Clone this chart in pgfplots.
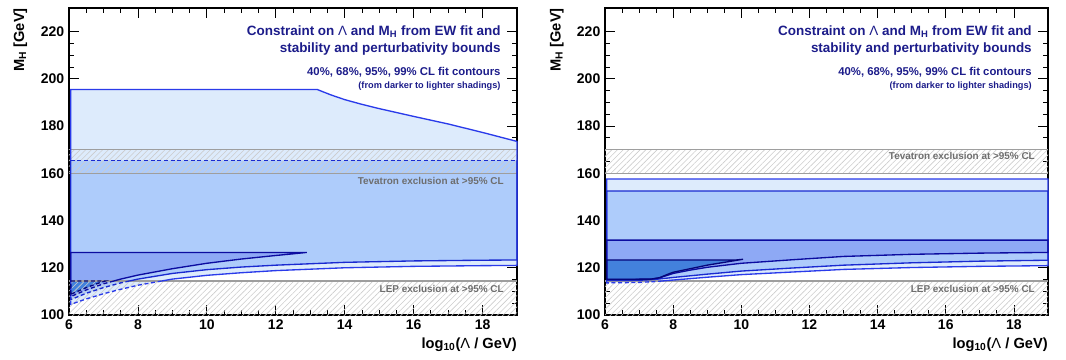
\documentclass[border=0pt]{standalone}
\usepackage{fontspec}
\setmainfont{Liberation Sans}
\usepackage{pgfplots}
\pgfplotsset{compat=1.18}
\usetikzlibrary{patterns.meta}
\definecolor{c99}{HTML}{DDEBFC}
\definecolor{c95}{HTML}{AECCFB}
\definecolor{c68}{HTML}{8EA9F5}
\definecolor{c40}{HTML}{4381DC}
\definecolor{l99}{HTML}{2A3BEA}
\definecolor{l95}{HTML}{1A2AD0}
\definecolor{l68}{HTML}{0C0CA0}
\definecolor{l40}{HTML}{06067A}
\definecolor{titleblue}{HTML}{1C1C8A}
\definecolor{excltext}{HTML}{6E6E6E}
\tikzset{txt/.style={anchor=base east, inner sep=0pt}}
\pgfplotsset{
  rootstyle/.style={
    scale only axis, height=230.25pt,
    xmin=6, xmax=19, ymin=100, ymax=230,
    clip=false,
    axis line style={black, line width=0.8pt},
    tick align=inside, xtick pos=both, ytick pos=both,
    xticklabel pos=lower, yticklabel pos=left,
    major tick length=7.5pt, minor tick length=4pt,
    tick style={black, line width=0.6pt},
    xtick={6,8,...,18}, xticklabels={6,8,10,12,14,16,18},
    ytick={100,120,...,220}, yticklabels={100,120,140,160,180,200,220},
    minor x tick num=3, minor y tick num=3,
    ticklabel style={font=\fontsize{10.5}{12}\selectfont\bfseries},
  },
  hatch/.style={draw=none, pattern={Lines[angle=45,distance=3pt,line width=0.45pt]}, pattern color=black!20},
  excline/.style={black!38, line width=0.8pt},
  cl/.style={line width=1pt},
  cld/.style={line width=1pt, dash pattern=on 3pt off 2pt},
}
\newcommand{\titletext}{%
  \node[txt, text=titleblue, font=\fontsize{10.1}{11}\selectfont\bfseries] at (axis cs:18.53,218.3) {Constraint on {\mdseries Λ} and M\textsubscript{H} from EW fit and};
  \node[txt, text=titleblue, font=\fontsize{10.1}{11}\selectfont\bfseries] at (axis cs:18.53,211.1) {stability and perturbativity bounds};
  \node[txt, text=titleblue, font=\fontsize{8.5}{9}\selectfont\bfseries] at (axis cs:18.53,201.4) {40\%, 68\%, 95\%, 99\% CL fit contours};
  \node[txt, text=titleblue, font=\fontsize{6.9}{7}\selectfont\bfseries] at (axis cs:18.53,196.0) {(from darker to lighter shadings)};
  \node[txt, rotate=90, font=\fontsize{11}{13}\selectfont\bfseries] at (rel axis cs:-0.1004,1) {M\textsubscript{H} [GeV]};
  \node[txt, font=\fontsize{11}{13}\selectfont\bfseries] at (rel axis cs:1,-0.1075) {log\textsubscript{10}({\mdseries Λ} / GeV)};
}
\begin{document}
\begin{tikzpicture}
% ---------------- left panel ----------------
\begin{axis}[rootstyle, width=336pt, at={(0pt,0pt)}, anchor=south west]
\addplot[fill=c99, draw=none] coordinates {(6.05,104.5)(6.05,195.5)(13.2,195.5)(13.6,193.2)(14,191.2)(14.5,189.2)(15,187.4)(16,184.1)(17,180.9)(18,177.3)(19,173.5)(19,121)(18,120.9)(16,120.6)(14,120)(12,118.8)(11,117.9)(10,116.8)(9,115.2)(8,112.6)(7.5,110.9)(7,109)(6.5,106.8)(6.05,104.5)};
\addplot[fill=c95, draw=none] coordinates {(6.05,106.5)(6.05,165.5)(19,165.5)(19,123.3)(18,123.2)(16,122.9)(14,122.3)(12,121.1)(11,120.3)(10,119.2)(9,117.6)(8,115.2)(7.5,113.6)(7,111.6)(6.5,109.2)(6.05,106.5)};
\addplot[fill=c68, draw=none] coordinates {(6.05,107.8)(6.05,126.5)(12.9,126.5)(12.5,125.9)(12,125.2)(11,123.7)(10,121.9)(9,119.6)(8,116.9)(7.5,115.2)(7,113.2)(6.5,110.6)(6.05,107.8)};
\addplot[fill=c40, draw=none] coordinates {(6.05,108.8)(6.05,114.4)(7.05,114.4)(6.8,113.2)(6.5,111.6)(6.25,110)(6.05,108.8)};
% exclusions
\addplot[hatch] coordinates {(6,100)(19,100)(19,114.4)(6,114.4)};
\addplot[hatch] coordinates {(6,160)(19,160)(19,170)(6,170)};
\addplot[excline] coordinates {(6,114.4)(19,114.4)};
\addplot[excline] coordinates {(6,160)(19,160)};
\addplot[excline] coordinates {(6,170)(19,170)};
% contour lines
\addplot[cl, l99] coordinates {(8.69,114.4)(9,115.2)(10,116.8)(11,117.9)(12,118.8)(14,120)(16,120.6)(18,120.9)(19,121)(19,173.5)(18,177.3)(17,180.9)(16,184.1)(15,187.4)(14.5,189.2)(14,191.2)(13.6,193.2)(13.2,195.5)(6.05,195.5)(6.05,114.4)};
\addplot[cld, l99] coordinates {(6.05,114.4)(6.05,104.5)(6.5,106.8)(7,109)(7.5,110.9)(8,112.6)(8.69,114.4)};
\addplot[cld, l95] coordinates {(6.05,165.5)(19,165.5)};
\addplot[cl, l95] coordinates {(19,165.5)(19,123.3)(18,123.2)(16,122.9)(14,122.3)(12,121.1)(11,120.3)(10,119.2)(9,117.6)(8,115.2)(7.75,114.4)};
\addplot[cld, l95] coordinates {(7.75,114.4)(7.5,113.6)(7,111.6)(6.5,109.2)(6.05,106.5)(6.05,114.4)};
\addplot[cl, l95] coordinates {(6.05,114.4)(6.05,165.5)};
\addplot[cl, l68] coordinates {(6.05,114.4)(6.05,126.5)(12.9,126.5)(12.5,125.9)(12,125.2)(11,123.7)(10,121.9)(9,119.6)(8,116.9)(7.5,115.2)(7.3,114.4)};
\addplot[cld, l68] coordinates {(7.3,114.4)(7,113.2)(6.5,110.6)(6.05,107.8)(6.05,114.4)};
\addplot[cld, l40] coordinates {(6.05,108.8)(6.05,114.4)(7.05,114.4)(6.8,113.2)(6.5,111.6)(6.25,110)(6.05,108.8)};
\titletext
\node[txt, text=excltext, font=\fontsize{7.45}{9}\selectfont\bfseries] at (axis cs:18.62,155.1) {Tevatron exclusion at >95\% CL};
\node[txt, text=excltext, font=\fontsize{7.45}{9}\selectfont\bfseries] at (axis cs:18.62,109.5) {LEP exclusion at >95\% CL};
\end{axis}
% ---------------- right panel ----------------
\begin{axis}[rootstyle, width=332.25pt, at={(402pt,0pt)}, anchor=south west]
\addplot[fill=c99, draw=none] coordinates {(6.05,113.6)(6.05,157.6)(19,157.6)(19,120.9)(17,120.6)(15,120.1)(13,119.3)(11.5,118.2)(10,117.1)(9,116)(8,114.8)(7.5,114.2)(7,113.8)(6.05,113.6)};
\addplot[fill=c95, draw=none] coordinates {(6.05,114.6)(6.05,152.5)(19,152.5)(19,123.2)(17,122.8)(15,122.1)(13,121.1)(11.5,119.9)(10,118.6)(9,117.3)(8,115.9)(7.5,115.1)(7,114.7)(6.05,114.6)};
\addplot[fill=c68, draw=none] coordinates {(6.05,115)(6.05,131.7)(19,131.7)(19,126.5)(17,126.2)(15,125.7)(13,124.8)(11.5,123.4)(10,121.9)(9,120.2)(8.5,119.0)(8,117.6)(7.6,115.7)(7.3,115.1)(6.05,115)};
\addplot[fill=c40, draw=none] coordinates {(6.05,115.1)(6.05,123.3)(9.85,123.3)(10.05,123.6)(9.5,122.3)(9,121.1)(8.5,119.6)(8,118.1)(7.85,117.3)(7.6,115.8)(7.35,115.2)(6.05,115.1)};
% exclusions
\addplot[hatch] coordinates {(6,100)(19,100)(19,114.4)(6,114.4)};
\addplot[hatch] coordinates {(6,160)(19,160)(19,170)(6,170)};
\addplot[excline] coordinates {(6,114.4)(19,114.4)};
\addplot[excline] coordinates {(6,160)(19,160)};
\addplot[excline] coordinates {(6,170)(19,170)};
% contour lines
\addplot[cl, l99] coordinates {(7.67,114.4)(8,114.8)(9,116)(10,117.1)(11.5,118.2)(13,119.3)(15,120.1)(17,120.6)(19,120.9)(19,157.6)(6.05,157.6)(6.05,114.4)};
\addplot[cld, l99] coordinates {(6.05,114.4)(6.05,113.6)(7,113.8)(7.5,114.2)(7.67,114.4)};
\addplot[cl, l95] coordinates {(6.05,114.6)(6.05,152.5)(19,152.5)(19,123.2)(17,122.8)(15,122.1)(13,121.1)(11.5,119.9)(10,118.6)(9,117.3)(8,115.9)(7.5,115.1)(7,114.7)(6.05,114.6)};
\addplot[cl, l68] coordinates {(6.05,115)(6.05,131.7)(19,131.7)(19,126.5)(17,126.2)(15,125.7)(13,124.8)(11.5,123.4)(10,121.9)(9,120.2)(8.5,119.0)(8,117.6)(7.6,115.7)(7.3,115.1)(6.05,115)};
\addplot[cl, l40] coordinates {(6.05,115.1)(6.05,123.3)(9.85,123.3)(10.05,123.6)(9.5,122.3)(9,121.1)(8.5,119.6)(8,118.1)(7.85,117.3)(7.6,115.8)(7.35,115.2)(6.05,115.1)};
\titletext
\node[txt, text=excltext, font=\fontsize{7.45}{9}\selectfont\bfseries] at (axis cs:18.62,165.7) {Tevatron exclusion at >95\% CL};
\node[txt, text=excltext, font=\fontsize{7.45}{9}\selectfont\bfseries] at (axis cs:18.62,109.5) {LEP exclusion at >95\% CL};
\end{axis}
\pgfresetboundingbox
\path (-51.75pt,-33.75pt) rectangle (747.75pt,236.25pt);
\end{tikzpicture}
\end{document}
